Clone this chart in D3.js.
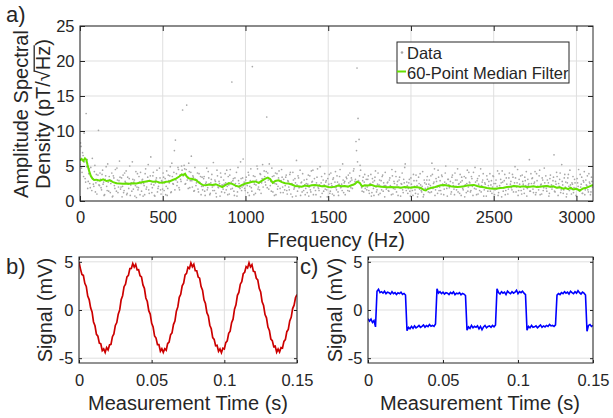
<!DOCTYPE html>
<html><head><meta charset="utf-8">
<script src="https://cdn.jsdelivr.net/npm/d3@7"></script>
<style>
body{margin:0;background:#fff}
svg text{font-family:"Liberation Sans",Arial,Helvetica,sans-serif;fill:#262626}
</style>
</head><body>
<svg id="chart" width="613" height="418"></svg>
<script>
// ---------- DATA ----------
// (a) amplitude spectral density samples; set A at bins i*adsBinHz, set B at (i+0.5)*adsBinHz
const adsBinHz = 6.2;
const adsData = [
5.2,7.8,4.1,6.5,9.7,3.2,12.5,5.9,2.8,4.6,1.9,3.5,6.1,2.4,4.2,1.3,3.8,2.9,10.1,2.2,
3.1,1.6,4.4,2.7,0.9,3.6,2.1,5.3,1.4,3.0,2.5,4.0,0.7,3.3,1.8,2.6,4.7,1.2,2.9,3.4,
2.0,0.6,3.7,1.5,2.8,4.3,1.1,2.4,3.2,0.8,2.6,5.6,1.7,3.0,2.2,0.5,3.9,1.9,2.7,4.1,
1.4,3.1,2.5,0.9,4.6,2.0,3.4,1.6,2.9,6.3,1.2,3.6,2.3,0.7,3.0,4.4,1.8,2.6,3.3,1.0,
2.8,4.0,1.5,3.2,2.1,0.8,3.7,2.6,4.9,1.3,3.5,2.4,7.2,8.7,3.9,2.7,4.5,1.6,3.1,5.0,
13.0,3.8,4.6,2.5,13.7,3.3,5.4,1.9,4.1,2.9,3.6,1.4,4.8,2.2,3.0,1.7,3.9,2.6,0.9,3.4,
2.1,3.5,0.8,2.7,1.6,4.2,2.4,1.1,3.1,2.0,5.5,1.5,2.8,0.6,3.6,1.9,2.5,4.0,1.3,2.2,
3.0,1.2,2.6,4.4,0.9,2.3,3.7,1.7,17.0,2.9,1.4,3.3,2.1,0.7,4.8,2.5,1.8,3.2,2.0,6.0,
2.7,1.5,3.4,2.2,4.1,0.8,2.9,1.9,19.2,3.6,2.4,1.1,3.0,4.6,2.0,1.6,3.8,2.6,5.2,3.1,
3.5,2.3,12.0,4.0,1.7,3.2,2.8,4.7,1.3,3.6,2.5,0.9,3.9,2.1,4.3,1.8,2.9,3.4,1.2,2.6,
2.2,3.7,1.0,2.8,1.6,4.1,2.4,0.6,3.0,1.9,2.6,5.8,1.4,3.3,2.0,0.8,2.7,3.9,1.5,2.3,
1.8,3.1,2.4,0.7,3.6,1.3,2.7,4.4,1.9,2.2,0.9,3.4,2.0,1.5,4.9,2.6,1.1,3.0,2.3,1.7,
2.9,0.6,2.1,3.8,1.4,2.5,1.0,3.3,2.0,4.2,1.6,2.7,0.8,3.5,1.9,2.4,5.3,1.2,2.8,2.1,
3.2,1.5,2.6,4.0,1.9,3.0,2.3,4.6,2.8,8.5,19.0,11.8,8.8,5.1,2.2,1.4,3.4,2.7,1.8,3.1,
2.0,3.6,1.1,2.5,0.7,3.2,1.8,2.9,4.3,1.3,2.4,0.9,3.0,2.1,1.6,3.7,2.6,0.6,2.2,1.9,
2.7,1.4,3.3,2.0,4.5,1.0,2.8,1.7,3.5,2.3,0.8,3.0,1.9,2.5,4.0,1.2,2.6,5.3,1.5,2.2,
1.8,3.1,0.7,2.4,1.5,3.8,2.1,1.1,2.9,0.6,3.4,1.7,2.3,1.3,4.2,0.9,2.6,1.6,3.0,2.0,
2.4,1.2,3.6,5.4,1.8,2.7,0.8,3.2,2.0,4.4,1.5,2.9,1.0,3.5,2.2,1.7,4.0,2.5,0.7,3.1,
1.9,2.8,1.3,3.7,2.2,0.9,3.0,1.6,4.6,2.4,1.1,2.7,3.4,1.8,2.1,0.6,3.3,2.5,1.4,4.1,
2.6,1.5,3.2,0.8,2.3,4.8,1.7,2.9,1.0,3.6,2.0,1.3,2.7,3.9,1.6,2.4,0.7,3.1,2.2,1.8,
1.4,2.9,2.0,3.5,0.9,2.5,1.7,4.3,1.2,2.2,3.1,0.6,2.7,1.9,3.8,1.5,2.4,1.0,3.3,2.1,
2.8,1.6,3.4,2.2,4.9,1.3,2.6,0.8,3.1,2.0,1.5,3.7,2.4,1.1,2.9,4.2,1.8,2.3,5.9,1.4,
2.5,3.3,1.2,2.7,0.9,3.9,2.1,1.6,4.4,2.3,1.0,3.0,1.9,2.6,3.6,1.4,2.2,0.7,3.2,2.0,
1.7,2.9,6.6,1.3,2.4,3.5,0.8,2.1,4.0,1.6,2.8,1.1,3.3,2.0,0.6,2.6,3.8,1.5,2.3,1.0,
2.4,1.2,3.1,1.8,0.7,2.6,4.5,1.4,2.0,3.4,1.1,2.7,0.9,3.0,2.2,1.6,3.9,2.5,1.3,2.8
];
const adsDataB = [
8.3,4.7,6.9,3.5,5.6,2.7,4.9,1.8,3.9,2.5,4.8,1.5,3.2,2.1,5.1,2.6,1.0,3.7,2.3,4.0,
1.9,3.8,2.4,0.8,3.1,4.9,1.5,2.7,3.5,1.2,2.9,0.6,3.6,2.2,4.5,1.4,3.0,2.0,5.7,1.7,
3.3,2.1,1.2,4.0,2.6,0.9,3.4,1.8,5.0,2.3,1.4,3.1,2.7,0.7,4.2,2.0,1.6,3.5,0.9,2.5,
3.0,0.7,2.2,3.9,1.7,2.8,5.2,1.1,3.6,2.4,1.9,4.1,0.8,2.6,3.3,1.3,2.1,4.7,1.6,2.9,
1.7,3.4,2.6,0.9,4.3,1.8,2.9,3.6,1.2,5.4,2.5,4.1,1.6,3.0,2.2,4.8,1.9,3.7,2.8,4.4,
3.6,5.1,2.4,4.5,3.0,1.8,4.2,2.9,6.4,2.0,3.4,1.5,3.1,2.6,4.0,1.3,2.7,3.5,2.1,1.6,
3.2,1.4,2.5,4.7,1.9,3.3,0.9,2.6,3.8,1.5,2.2,3.0,1.1,4.4,2.0,2.8,0.7,3.4,2.3,1.7,
2.4,3.9,1.6,2.1,3.5,1.0,4.5,2.7,1.8,3.2,0.8,2.5,4.1,1.3,2.9,2.0,5.6,1.5,3.3,2.2,
1.8,3.0,2.5,1.2,3.7,2.1,4.6,1.4,2.8,0.9,3.5,2.3,5.0,1.7,2.6,3.9,1.1,3.2,2.0,4.3,
2.7,4.2,1.9,3.0,5.3,2.2,1.4,3.5,2.6,0.8,4.0,2.4,1.7,3.3,2.9,1.2,4.5,2.0,3.1,1.6,
3.4,1.5,2.9,2.0,3.8,1.0,2.5,4.1,1.7,3.2,0.7,2.3,3.6,1.9,4.4,2.6,1.3,2.1,3.0,0.9,
2.5,1.2,3.7,2.0,1.6,4.3,2.8,0.9,3.2,1.5,2.6,4.6,1.8,2.3,0.6,3.5,2.1,1.4,3.9,2.7,
1.6,3.2,2.4,1.1,4.0,2.2,3.1,0.8,2.7,1.9,3.6,1.3,2.4,4.5,2.0,1.5,3.0,2.6,0.9,3.4,
2.1,3.7,1.4,2.8,3.3,1.8,4.3,2.5,3.1,7.2,5.6,2.9,3.6,4.4,1.9,2.9,1.3,3.8,2.2,1.6,
3.1,1.5,2.4,3.8,1.2,2.7,0.8,3.4,2.0,1.6,4.0,2.3,1.1,2.9,3.5,1.4,2.2,4.1,1.7,2.6,
1.5,3.0,2.2,0.9,3.6,1.8,2.5,4.2,1.3,2.8,2.0,3.4,0.7,2.4,1.6,3.1,4.8,1.9,2.7,1.1,
2.6,1.4,3.3,2.0,0.8,2.9,1.6,3.7,2.2,1.0,2.5,3.9,1.5,2.1,0.6,3.0,1.8,2.4,3.5,1.3,
3.0,2.2,1.3,3.8,2.5,4.6,1.6,2.8,1.1,3.4,2.0,1.5,3.7,2.4,0.9,2.7,5.0,1.8,3.1,2.3,
2.2,1.0,3.4,2.6,1.7,4.0,2.1,3.0,1.3,2.5,3.8,0.8,2.9,1.6,3.5,2.3,1.2,4.4,2.0,2.7,
1.3,3.5,2.1,4.1,1.8,2.7,0.9,3.2,2.4,1.5,4.6,2.2,3.0,0.7,2.6,1.9,3.6,1.4,2.8,3.9,
2.3,1.1,3.6,2.5,1.6,3.0,2.1,0.8,3.9,1.9,2.6,4.3,1.4,2.9,0.9,3.3,2.0,1.7,4.0,2.4,
1.9,3.8,1.3,2.6,3.3,2.0,4.5,1.5,2.4,3.6,1.0,2.8,1.7,3.4,2.2,0.7,3.1,2.5,1.4,3.9,
3.2,1.7,2.5,4.2,1.2,2.9,2.0,3.6,0.9,2.4,3.3,1.5,4.7,2.1,1.8,3.0,2.6,1.1,3.7,2.3,
2.0,3.4,1.4,2.8,4.1,1.9,2.5,3.1,1.2,5.2,2.3,1.6,3.8,2.7,1.0,3.3,2.1,4.4,1.7,2.6,
3.5,1.9,2.6,0.8,3.2,2.1,1.5,3.8,2.4,1.1,2.9,4.2,1.6,2.3,3.6,1.3,2.7,0.9,3.4,2.0
];
// (a) 60-point median filter
const medFreq = [0,10,20,30,38,45,55,65,75,85,100,120,140,160,180,200,220,240,260,280,300,320,340,360,380,400,420,440,460,480,500,520,540,560,580,600,615,625,635,645,660,680,700,720,740,760,780,800,820,840,860,880,900,920,940,960,980,1000,1020,1040,1060,1080,1100,1120,1135,1150,1165,1180,1200,1220,1240,1260,1280,1300,1320,1340,1360,1380,1400,1420,1440,1460,1480,1500,1520,1540,1560,1580,1600,1620,1640,1660,1675,1690,1705,1720,1740,1760,1780,1800,1820,1840,1860,1880,1900,1920,1940,1960,1980,2000,2020,2040,2060,2080,2090,2100,2120,2140,2160,2180,2200,2220,2240,2260,2280,2300,2320,2340,2360,2380,2400,2420,2440,2460,2480,2500,2520,2540,2560,2580,2600,2620,2640,2660,2680,2700,2720,2740,2760,2780,2800,2820,2840,2860,2880,2900,2920,2935,2950,2965,2980,3000,3020,3040,3060,3080,3100];
const medValue = [5.8,6.0,5.7,6.1,5.9,5.2,4.3,3.6,3.2,3.0,3.05,2.9,3.1,2.85,2.95,2.7,2.55,2.5,2.45,2.5,2.45,2.55,2.5,2.6,2.7,2.8,2.9,2.75,2.8,2.65,2.6,2.75,2.8,3.0,3.2,3.5,3.8,3.7,3.9,3.5,3.2,3.15,3.0,2.6,2.3,2.25,2.35,2.3,2.4,2.2,2.0,2.3,2.55,2.45,2.2,2.05,2.3,2.5,2.6,2.75,2.8,2.6,2.9,3.2,3.35,3.1,2.6,2.85,2.95,2.7,2.55,2.5,2.35,2.15,2.1,2.05,2.2,2.1,2.25,2.3,2.2,2.1,2.15,2.0,1.95,2.05,2.2,2.1,2.15,2.05,2.25,2.4,2.75,2.6,2.1,2.25,2.2,2.3,2.15,2.1,2.05,2.0,1.95,2.0,1.95,1.95,1.9,2.0,1.95,1.9,2.0,1.95,1.85,1.55,1.5,1.7,1.85,1.95,2.1,2.25,2.3,2.2,2.1,2.05,2.0,2.05,2.1,2.2,2.25,2.3,2.15,2.05,1.95,1.85,1.8,1.75,1.8,1.85,1.9,2.0,2.05,2.15,2.1,2.05,2.1,2.0,2.05,2.1,2.0,2.05,2.1,2.15,2.05,2.1,1.9,1.95,1.75,1.85,1.7,1.9,1.65,1.75,1.5,1.8,1.9,2.1,2.3];
// (b), (c) time signals, one sample per timeStep seconds
const timeStep = 0.001;
const sineSignal = [
5.0,4.27,3.68,3.59,2.77,2.44,1.45,1.08,0.23,-0.2,
-1.24,-1.64,-2.53,-2.72,-3.43,-3.5,-4.22,-4.04,-4.4,-3.9,
-4.14,-3.63,-3.57,-2.77,-2.49,-1.6,-1.3,-0.43,0.01,1.06,
1.48,2.42,2.67,3.44,3.59,4.29,4.3,4.81,4.45,4.73,
4.16,4.18,3.56,3.44,2.6,2.25,1.25,0.88,-0.07,-0.42,
-1.38,-1.77,-2.7,-2.92,-3.6,-3.59,-4.28,-4.02,-4.4,-4.02,
-4.17,-3.48,-3.34,-2.57,-2.37,-1.51,-1.15,-0.12,0.32,1.32,
1.63,2.51,2.78,3.64,3.8,4.43,4.31,4.88,4.49,4.74,
4.09,4.08,3.42,3.3,2.43,2.06,1.06,0.67,-0.28,-0.61,
-1.58,-1.95,-2.86,-3.05,-3.71,-3.67,-4.28,-4.04,-4.43,-3.97,
-4.05,-3.38,-3.21,-2.41,-2.2,-1.32,-0.95,0.08,0.53,1.52,
1.82,2.68,2.94,3.76,3.91,4.51,4.36,4.9,4.47,4.7,
4.01,3.97,3.29,3.13,2.25,1.88,0.85,0.46,-0.48,-0.81,
-1.77,-2.12,-3.01,-3.18,-3.81,-3.75,-4.38,-4.05,-4.36,-3.91,
-3.96,-3.26,-3.07,-2.25,-2.01,-1.13,-0.76,0.15,0.5,1.3,
1.6];
const squareSignal = [
-0.9,-1.15,-0.95,-1.3,-1.1,-1.75,
1.95,2.15,1.8,1.9,1.75,1.95,1.7,1.85,1.8,1.65,1.9,1.7,1.8,1.6,1.78,1.7,1.85,1.62,1.72,1.55,
-2.15,-1.8,-1.95,-1.7,-1.9,-1.65,-1.85,-1.75,-1.6,-1.8,-1.7,-1.55,-1.78,-1.62,-1.72,-1.5,-1.68,-1.6,-1.7,-1.45,
2.2,1.75,1.9,1.7,1.85,1.65,1.8,1.75,1.6,1.82,1.7,1.88,1.6,1.75,1.68,1.8,1.58,1.72,1.65,1.5,
-2.1,-1.75,-1.9,-1.6,-1.85,-1.7,-1.8,-1.65,-1.95,-1.7,-2.05,-1.75,-1.6,-1.85,-1.7,-1.65,-1.8,-1.6,-1.75,-1.55,
2.2,1.8,1.65,1.9,1.75,1.85,1.6,1.95,1.8,1.7,1.9,1.75,1.85,2.05,1.7,1.9,1.8,1.95,1.75,1.6,
-2.1,-1.7,-1.85,-1.6,-1.8,-1.75,-1.65,-1.85,-1.7,-1.55,-1.8,-1.65,-1.75,-1.6,-1.7,-1.5,-1.65,-1.6,-1.7,-1.55,
1.55,1.7,1.6,1.8,1.7,1.9,1.75,1.85,1.65,1.95,1.8,1.7,1.9,1.75,2.0,1.8,1.65,1.85,1.75,1.55,
-2.2,-1.6,-1.5,-1.7,-1.6];
// ticks
const freqTicks = [0,500,1000,1500,2000,2500,3000];
const adsTicks = [0,5,10,15,20,25];
const timeTicks = [0,0.05,0.1,0.15];
const signalTicks = [-5,0,5];
const legendLabels = ["Data","60-Point Median Filter"];

// ---------- DRAW ----------
const svg = d3.select("#chart");
const AX = "#262626", GRID = "#dfdfdf", DOT = "#a8a8a8";
const TICKFONT = 16.5, LABELFONT = 20;

function grid(g, x, y, xt, yt) {
  const [yb, yt0] = y.range(), [xl, xr] = x.range();
  g.append("g").selectAll("line").data(xt).join("line")
    .attr("x1", d => x(d)).attr("x2", d => x(d)).attr("y1", yb).attr("y2", yt0)
    .attr("stroke", GRID).attr("stroke-width", 1);
  g.append("g").selectAll("line").data(yt).join("line")
    .attr("y1", d => y(d)).attr("y2", d => y(d)).attr("x1", xl).attr("x2", xr)
    .attr("stroke", GRID).attr("stroke-width", 1);
}
function axes(g, x, y, xt, yt, tick, padX) {
  const [yb, yt0] = y.range(), [xl, xr] = x.range();
  const fmt = d => String(d);
  const style = s => {
    s.select(".domain").remove();
    s.selectAll(".tick line").attr("stroke", AX);
    s.selectAll(".tick text").attr("fill", AX).style("font-size", TICKFONT + "px")
      .style("font-family", '"Liberation Sans",Arial,sans-serif');
  };
  g.append("g").attr("transform", `translate(0,${yb})`)
    .call(d3.axisBottom(x).tickValues(xt).tickSize(-tick).tickPadding(padX).tickFormat(fmt)).call(style);
  g.append("g").attr("transform", `translate(0,${yt0})`)
    .call(d3.axisTop(x).tickValues(xt).tickSize(-tick).tickFormat("")).call(style);
  g.append("g").attr("transform", `translate(${xl},0)`)
    .call(d3.axisLeft(y).tickValues(yt).tickSize(-tick).tickPadding(5.5).tickFormat(fmt)).call(style);
  g.append("g").attr("transform", `translate(${xr},0)`)
    .call(d3.axisRight(y).tickValues(yt).tickSize(-tick).tickFormat("")).call(style);
  g.append("rect").attr("x", xl).attr("y", yt0).attr("width", xr - xl).attr("height", yb - yt0)
    .attr("fill", "none").attr("stroke", AX).attr("stroke-width", 1);
}
function clip(id, x, y) {
  svg.append("clipPath").attr("id", id).append("rect")
    .attr("x", x.range()[0]).attr("y", y.range()[1])
    .attr("width", x.range()[1] - x.range()[0]).attr("height", y.range()[0] - y.range()[1]);
}

// ---- panel a
const xA = d3.scaleLinear().domain([0, 3100]).range([80, 593]);
const yA = d3.scaleLinear().domain([0, 25]).range([201, 26]);
const gA = svg.append("g");
grid(gA, xA, yA, freqTicks, adsTicks);
clip("clipA", xA, yA);
const dA = gA.append("g").attr("clip-path", "url(#clipA)");
const pts = adsData.map((v, i) => [i * adsBinHz, v])
  .concat(adsDataB.map((v, i) => [(i + 0.5) * adsBinHz, v]));
dA.append("g").selectAll("circle").data(pts).join("circle")
  .attr("cx", d => xA(d[0])).attr("cy", d => yA(d[1])).attr("r", 0.85)
  .attr("fill", DOT);
dA.append("path").datum(medFreq.map((f, i) => [f, medValue[i]]))
  .attr("d", d3.line().x(d => xA(d[0])).y(d => yA(d[1])))
  .attr("fill", "none").attr("stroke", "#66e000").attr("stroke-width", 2);
axes(gA, xA, yA, freqTicks, adsTicks, 5, 10);
// legend
const lg = svg.append("g");
lg.append("rect").attr("x", 397).attr("y", 42).attr("width", 172).attr("height", 41)
  .attr("fill", "#fff").attr("stroke", AX).attr("stroke-width", 1);
lg.append("circle").attr("cx", 402).attr("cy", 52.5).attr("r", 1.3).attr("fill", DOT);
lg.append("line").attr("x1", 397).attr("x2", 406).attr("y1", 71.5).attr("y2", 71.5)
  .attr("stroke", "#66e000").attr("stroke-width", 2);
lg.selectAll("text").data(legendLabels).join("text")
  .attr("x", 407).attr("y", (d, i) => 59 + i * 19.5).style("font-size", "16.5px").text(d => d);

// axis labels a
svg.append("text").attr("x", 336).attr("y", 247).attr("text-anchor", "middle")
  .style("font-size", LABELFONT + "px").text("Frequency (Hz)");
const yl = svg.append("g").attr("transform", "translate(0,114) rotate(-90)");
yl.append("text").attr("x", 0).attr("y", 28).attr("text-anchor", "middle")
  .style("font-size", LABELFONT + "px").text("Amplitude Spectral");
const t2 = yl.append("text").attr("x", 0).attr("y", 50).attr("text-anchor", "middle")
  .style("font-size", LABELFONT + "px").text("Density (pT/\u221AHz)");
{
  const n = t2.node();
  const e = n.getEndPositionOfChar(14);
  const ex = n.getExtentOfChar(12);
  yl.append("line").attr("x1", ex.x + ex.width - 1.5).attr("x2", e.x + 0.5)
    .attr("y1", 50 - 15.8).attr("y2", 50 - 15.8).attr("stroke", AX).attr("stroke-width", 1.3);
}

// ---- panel b
const xB = d3.scaleLinear().domain([0, 0.15]).range([79, 297]);
const yB = d3.scaleLinear().domain([-5.5, 5.5]).range([363, 257]);
const gB = svg.append("g");
grid(gB, xB, yB, timeTicks, signalTicks);
clip("clipB", xB, yB);
gB.append("path").attr("clip-path", "url(#clipB)").datum(sineSignal)
  .attr("d", d3.line().x((d, i) => xB(i * timeStep)).y(d => yB(d)))
  .attr("fill", "none").attr("stroke", "#cc0000").attr("stroke-width", 1.7);
axes(gB, xB, yB, timeTicks, signalTicks, 3, 11.5);

// ---- panel c
const xC = d3.scaleLinear().domain([0, 0.15]).range([368, 593]);
const yC = d3.scaleLinear().domain([-5.5, 5.5]).range([363, 257]);
const gC = svg.append("g");
grid(gC, xC, yC, timeTicks, signalTicks);
clip("clipC", xC, yC);
gC.append("path").attr("clip-path", "url(#clipC)").datum(squareSignal)
  .attr("d", d3.line().x((d, i) => xC(i * timeStep)).y(d => yC(d)))
  .attr("fill", "none").attr("stroke", "#0000ff").attr("stroke-width", 1.6);
axes(gC, xC, yC, timeTicks, signalTicks, 3, 11.5);

// labels b, c
svg.append("text").attr("x", 188).attr("y", 410).attr("text-anchor", "middle")
  .style("font-size", LABELFONT + "px").text("Measurement Time (s)");
svg.append("text").attr("x", 480).attr("y", 410).attr("text-anchor", "middle")
  .style("font-size", LABELFONT + "px").text("Measurement Time (s)");
svg.append("text").attr("transform", "translate(52,310) rotate(-90)").attr("text-anchor", "middle")
  .style("font-size", LABELFONT + "px").text("Signal (mV)");
svg.append("text").attr("transform", "translate(342,310) rotate(-90)").attr("text-anchor", "middle")
  .style("font-size", LABELFONT + "px").text("Signal (mV)");

// panel letters
[["a)", 6, 22], ["b)", 6, 274], ["c)", 300, 274]].forEach(([t, x, y]) =>
  svg.append("text").attr("x", x).attr("y", y).style("font-size", "22px").text(t));
</script>
</body></html>
